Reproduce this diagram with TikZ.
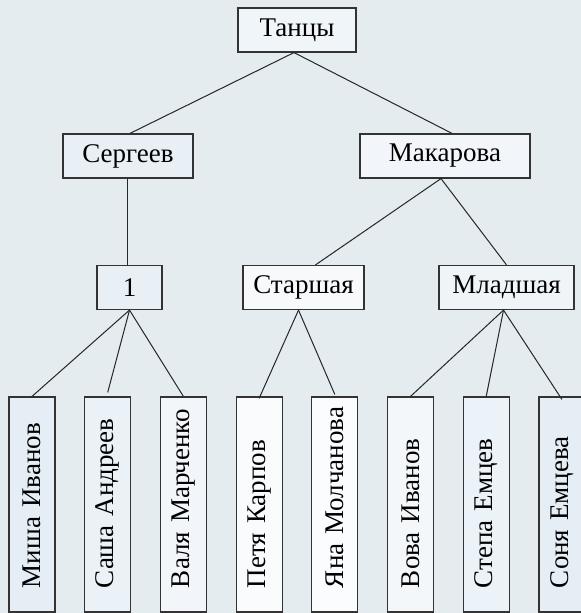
\documentclass[tikz,border=0pt]{standalone}
\usepackage{fontspec}
\setmainfont{Liberation Serif}
\definecolor{bgcol}{RGB}{228,236,240}
\definecolor{boxblue}{RGB}{224,235,243}
\definecolor{boxwhite}{RGB}{251,252,253}
\begin{document}
\begin{tikzpicture}[x=0.5pt,y=-0.5pt,font=\fontsize{13.5}{15}\selectfont,
 box/.style={draw=black!80,line width=0.6pt,minimum height=22pt,inner sep=0pt},
 leaf/.style={box,rotate=90,minimum height=23pt,text width=83.5pt,inner xsep=12pt,inner ysep=2pt,align=left},
 link/.style={draw=black!85,line width=0.5pt}]
\useasboundingbox (0,0) rectangle (581,613);
\fill[bgcol] (0,0) rectangle (581,613);
% upper levels
\node[box,minimum width=59pt,fill=boxblue!40!boxwhite] (dance) at (297,30) {Танцы};
\node[box,minimum width=65pt,fill=boxblue!70!boxwhite] (serg) at (128,156) {Сергеев};
\node[box,minimum width=85pt,fill=boxblue!35!boxwhite] (mak) at (445,156) {Макарова};
\node[box,minimum width=32.5pt,fill=boxblue!70!boxwhite] (grp1) at (129.5,287.5) {1};
\node[box,minimum width=60.5pt,fill=boxblue!15!boxwhite] (senior) at (303.5,287.5) {Старшая};
\node[box,minimum width=67.5pt,fill=boxblue!45!boxwhite] (junior) at (506.5,287.5) {Младшая};
% children
\foreach \i/\t/\m in {0/Миша Иванов/85,1/Саша Андреев/60,2/Валя Марченко/35,3/Петя Карпов/5,
  4/Яна Молчанова/0,5/Вова Иванов/30,6/Степа Емцев/55,7/Соня Емцева/80}
  \node[leaf,fill=boxblue!\m!boxwhite] (kid\i) at (32+75.7*\i,504.5) {\mbox{\t}};
\draw[link] ([xshift=-1.5pt]dance.south) -- ([xshift=1pt]serg.north);
\draw[link] ([xshift=-1.5pt]dance.south) -- ([xshift=3.5pt]mak.north);
\draw[link] ([xshift=-0.5pt]serg.south) -- ([xshift=-0.5pt]serg.south |- grp1.north);
\draw[link] ([xshift=-2pt]mak.south) -- ([xshift=6pt]senior.north);
\draw[link] ([xshift=-2pt]mak.south) -- (junior.north);
\foreach \k/\d in {0/0pt,1/2pt,2/0pt} \draw[link] (grp1.south) -- ([yshift=\d]kid\k.east);
\foreach \k/\d in {3/-1pt,4/1pt} \draw[link] ([xshift=-2.5pt]senior.south) -- ([yshift=\d]kid\k.east);
\foreach \k/\d in {5/0pt,6/0pt,7/-1.5pt} \draw[link] ([xshift=-1.5pt]junior.south) -- ([yshift=\d]kid\k.east);
\end{tikzpicture}
\end{document}
